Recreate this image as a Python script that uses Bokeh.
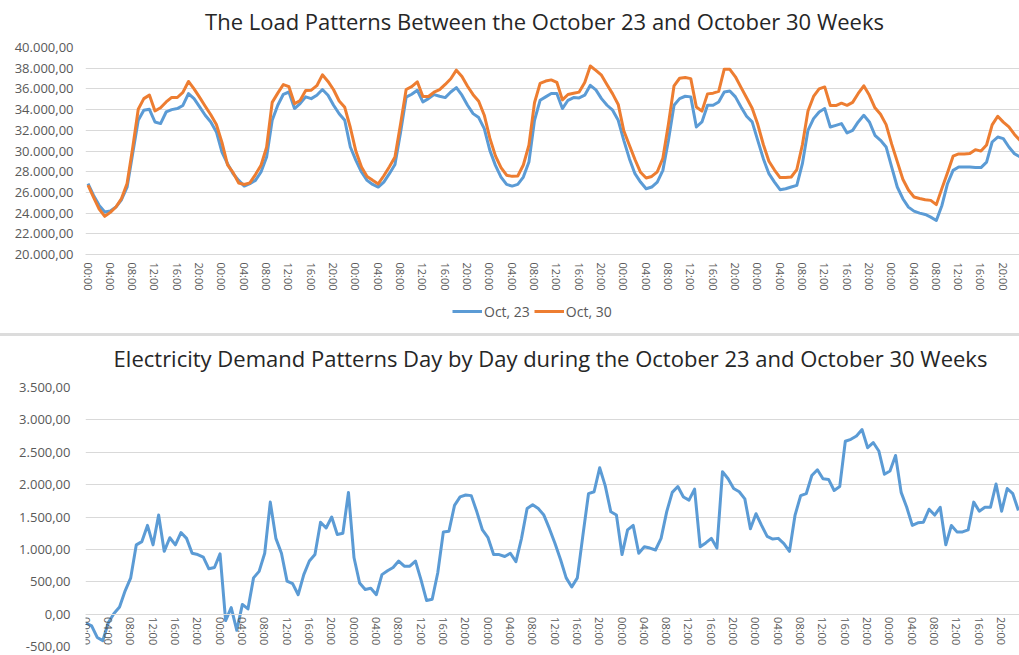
from bokeh.plotting import figure
from bokeh.models import Range1d, FixedTicker, Legend, LegendItem, Div, Label
from bokeh.layouts import column
from bokeh.embed import file_html
from bokeh.resources import INLINE

hours = list(range(168))
hour_labels = ["00:00", "04:00", "08:00", "12:00", "16:00", "20:00"] * 7

oct23 = [
    26850, 25700, 24750, 24100, 24200, 24580, 25290, 26500, 29740, 32970, 33940, 34030,
    32800, 32650, 33770, 34000, 34100, 34400, 35550, 35060, 34260, 33450, 32800, 31840,
    29900, 28770, 27800, 27160, 26610, 26840, 27160, 27970, 29420, 32970, 34420, 35480,
    35700, 34100, 34580, 35230, 35060, 35390, 35940, 35390, 34420, 33600, 32970, 30390,
    29100, 27970, 27160, 26770, 26520, 27000, 27810, 28700, 31800, 35200, 35480, 35870,
    34740, 35060, 35450, 35290, 35160, 35700, 36130, 35390, 34420, 33610, 33230, 32160,
    30060, 28610, 27480, 26770, 26610, 26770, 27480, 28930, 32970, 34900, 35230, 35550,
    35550, 34100, 34900, 35160, 35130, 35390, 36350, 35900, 35060, 34420, 33940, 32970,
    31030, 29260, 27810, 27000, 26350, 26520, 27000, 28130, 31030, 34420, 35060, 35290,
    35230, 32320, 32810, 34420, 34420, 34740, 35700, 35800, 35230, 34260, 33360, 32810,
    31030, 29260, 27810, 27000, 26260, 26350, 26520, 26680, 28770, 32000, 33130, 33770,
    34100, 32320, 32480, 32650, 31740, 32000, 32810, 33450, 32810, 31520, 31030, 30390,
    28450, 26520, 25390, 24580, 24190, 24000, 23870, 23610, 23290, 24740, 26840, 28130,
    28450, 28450, 28450, 28400, 28400, 28930, 30870, 31350, 31200, 30390, 29740, 29420,
]

oct30 = [
    26710, 25520, 24390, 23690, 24070, 24590, 25400, 26860, 30300, 34040, 35060, 35400,
    33870, 34180, 34740, 35180, 35170, 35660, 36720, 36000, 35180, 34330, 33500, 32560,
    30830, 28670, 27900, 26910, 26760, 26920, 27720, 28630, 30360, 34700, 35590, 36420,
    36210, 34570, 34880, 35840, 35880, 36310, 37360, 36720, 35920, 34830, 34220, 32270,
    29970, 28450, 27540, 27170, 26820, 27610, 28480, 29420, 32620, 35940, 36220, 36690,
    35270, 35270, 35680, 35930, 36430, 36980, 37810, 37200, 36260, 35440, 34810, 33460,
    31240, 29530, 28400, 27660, 27550, 27580, 28650, 30560, 34660, 36530, 36760, 36870,
    36640, 34940, 35460, 35580, 35690, 36610, 38210, 37790, 37320, 36400, 35520, 34500,
    31950, 30560, 29180, 27940, 27390, 27540, 27990, 29300, 32610, 36300, 37030, 37100,
    36990, 34250, 33850, 35520, 35590, 35760, 37900, 37890, 37170, 36150, 35140, 34130,
    32580, 30630, 29010, 28160, 27430, 27440, 27490, 28210, 30600, 33860, 35270, 36000,
    36190, 34400, 34390, 34620, 34410, 34700, 35560, 36300, 35380, 34170, 33550, 32550,
    30660, 28970, 27270, 26230, 25560, 25410, 25290, 25230, 24820, 26390, 27910, 29500,
    29720, 29720, 29750, 30130, 29990, 30580, 32520, 33360, 32790, 32330, 31600, 31020,
]

difference = [
    -140, -180, -360, -410, -130, 10, 110, 360, 560, 1070, 1120, 1370,
    1070, 1530, 970, 1180, 1070, 1260, 1170, 940, 920, 880, 700, 720,
    930, -100, 100, -250, 150, 80, 560, 660, 940, 1730, 1170, 940,
    510, 470, 300, 610, 820, 920, 1420, 1330, 1500, 1230, 1250, 1880,
    870, 480, 380, 400, 300, 610, 670, 720, 820, 740, 740, 820,
    530, 210, 230, 640, 1270, 1280, 1680, 1810, 1840, 1830, 1580, 1300,
    1180, 920, 920, 890, 940, 810, 1170, 1630, 1690, 1630, 1530, 1320,
    1090, 840, 560, 420, 560, 1220, 1860, 1890, 2260, 1980, 1580, 1530,
    920, 1300, 1370, 940, 1040, 1020, 990, 1170, 1580, 1880, 1970, 1810,
    1760, 1930, 1040, 1100, 1170, 1020, 2200, 2090, 1940, 1890, 1780, 1320,
    1550, 1370, 1200, 1160, 1170, 1090, 970, 1530, 1830, 1860, 2140, 2230,
    2090, 2080, 1910, 1970, 2670, 2700, 2750, 2850, 2570, 2650, 2520, 2160,
    2210, 2450, 1880, 1650, 1370, 1410, 1420, 1620, 1530, 1650, 1070, 1370,
    1270, 1270, 1300, 1730, 1590, 1650, 1650, 2010, 1590, 1940, 1860, 1600,
]

top_y_ticks = [20000, 22000, 24000, 26000, 28000, 30000, 32000, 34000, 36000, 38000, 40000]
top_y_labels = ["20.000,00", "22.000,00", "24.000,00", "26.000,00", "28.000,00", "30.000,00",
                "32.000,00", "34.000,00", "36.000,00", "38.000,00", "40.000,00"]
bottom_y_ticks = [-500, 0, 500, 1000, 1500, 2000, 2500, 3000, 3500]
bottom_y_labels = ["-500,00", "0,00", "500,00", "1.000,00", "1.500,00", "2.000,00",
                   "2.500,00", "3.000,00", "3.500,00"]

series_names = ["Oct, 23", "Oct, 30"]
top_title = "The Load Patterns Between the October 23 and October 30 Weeks"
bottom_title = "Electricity Demand Patterns Day by Day during the October 23 and October 30 Weeks"

BLUE = "#5B9BD5"
ORANGE = "#ED7D31"
GRID = "#d9d9d9"
LABEL = "#595959"
FONT = "Open Sans"
W = 1019
LEFT = 85

tick_pos = hours[::4]
x_overrides = {h: lab for h, lab in zip(tick_pos, hour_labels)}


def strip(height):
    s = figure(width=W, height=height, x_range=Range1d(LEFT, W), y_range=Range1d(0, height),
               output_backend="svg", toolbar_location=None,
               min_border_left=LEFT, min_border_right=0, min_border_top=0, min_border_bottom=0)
    s.axis.visible = False
    s.grid.visible = False
    s.outline_line_color = None
    return s


def title_strip(text, height, cx, cy):
    s = strip(height)
    s.add_layout(Label(x=cx, y=height - cy, text=text, text_align="center",
                       text_baseline="middle", text_font=FONT, text_font_size="22px",
                       text_color="#262626"))
    return s


def style(p, y_ticks, y_labels, y_standoff, x_standoff):
    p.outline_line_color = None
    p.xgrid.visible = False
    p.ygrid.grid_line_color = GRID
    p.ygrid.grid_line_width = 1
    p.yaxis.ticker = FixedTicker(ticks=y_ticks)
    p.yaxis.major_label_overrides = dict(zip(y_ticks, y_labels))
    p.yaxis.axis_line_color = None
    p.yaxis.major_label_standoff = y_standoff
    p.xaxis.ticker = FixedTicker(ticks=tick_pos)
    p.xaxis.major_label_overrides = x_overrides
    p.xaxis.major_label_orientation = "vertical"
    p.xaxis.axis_line_color = GRID
    p.xaxis.major_label_standoff = x_standoff
    for ax in (p.xaxis, p.yaxis):
        ax.major_tick_line_color = None
        ax.minor_tick_line_color = None
        ax.major_tick_out = 0
        ax.major_tick_in = 0
        ax.minor_tick_out = 0
        ax.major_label_text_font = FONT
        ax.major_label_text_color = LABEL
    p.yaxis.major_label_text_font_size = "13px"
    p.xaxis.major_label_text_font_size = "11px"


# ---- top chart: load patterns ----
t1 = title_strip(top_title, 36, 544, 20)
p1 = figure(width=W, height=260, x_range=Range1d(-0.45, 166.9), y_range=Range1d(20000, 40000),
            output_backend="svg", toolbar_location=None,
            min_border_left=LEFT, min_border_right=0, min_border_top=11, min_border_bottom=42)
style(p1, top_y_ticks, top_y_labels, 12, 8)
p1.line(hours, oct23, line_color=BLUE, line_width=3, line_join="round")
p1.line(hours, oct30, line_color=ORANGE, line_width=3, line_join="round")

# ---- legend strip for the top chart ----
pl = strip(37)
l1 = pl.line(hours, oct23, line_color=BLUE, line_width=3)
l2 = pl.line(hours, oct30, line_color=ORANGE, line_width=3)
legend = Legend(items=[LegendItem(label=series_names[0], renderers=[l1]),
                       LegendItem(label=series_names[1], renderers=[l2])],
                orientation="horizontal", location=(367, 12))
legend.border_line_color = None
legend.background_fill_alpha = 0
legend.label_text_font = FONT
legend.label_text_font_size = "14px"
legend.label_text_color = LABEL
legend.glyph_width = 30
legend.glyph_height = 20
legend.label_height = 20
legend.label_standoff = 2
legend.spacing = 4
legend.padding = 0
legend.margin = 0
pl.add_layout(legend)

sep = Div(text="", width=W, height=3, margin=0, styles={"background-color": "#dcdcdc"})

# ---- bottom chart: difference ----
t2 = title_strip(bottom_title, 38, 550, 21)
p2 = figure(width=W, height=281, x_range=Range1d(-0.1, 167.2), y_range=Range1d(-500, 3500),
            output_backend="svg", toolbar_location=None,
            min_border_left=LEFT, min_border_right=0, min_border_top=13, min_border_bottom=9)
style(p2, bottom_y_ticks, bottom_y_labels, 15, 3)
p2.xaxis.fixed_location = 0
p2.line(hours, difference, line_color=BLUE, line_width=3, line_join="round")

layout = column(t1, p1, pl, sep, t2, p2)
open("out.html", "w").write(file_html(layout, INLINE))
